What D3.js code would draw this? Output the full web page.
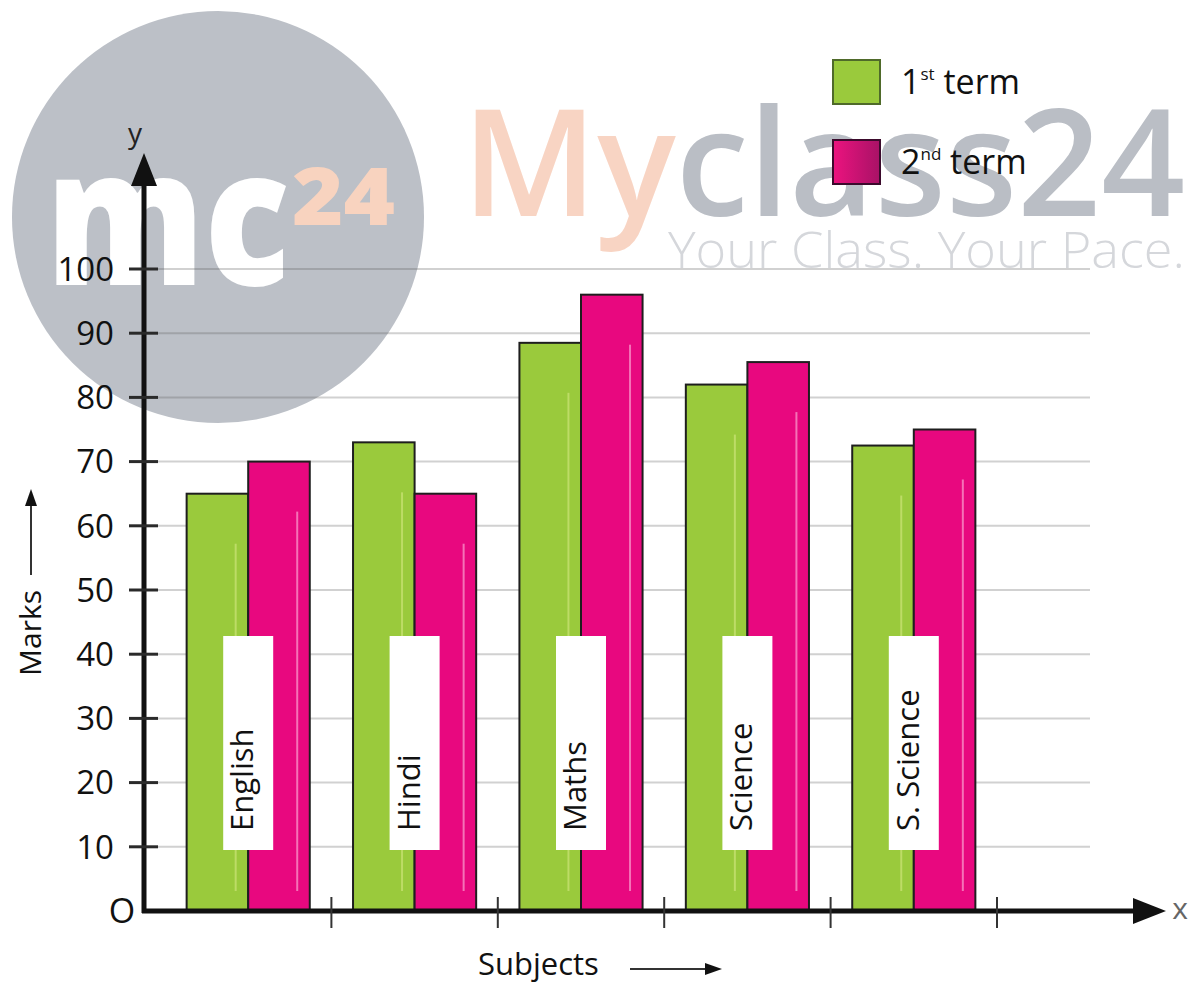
<!DOCTYPE html>
<html>
<head>
<meta charset="utf-8">
<script src="https://cdn.jsdelivr.net/npm/d3@7"></script>
<style>
  html, body { margin: 0; padding: 0; background: #ffffff; }
  svg { display: block; }
  text { font-family: "Open Sans", "Noto Sans", sans-serif; }
</style>
</head>
<body>
<svg id="chart" width="1196" height="986"></svg>
<script>
// ---- data ----
const subjects = ["English", "Hindi", "Maths", "Science", "S. Science"];
const seriesNames = ["1st term", "2nd term"];
const term1 = [65, 73, 88.5, 82, 72.5];
const term2 = [70, 65, 96, 85.5, 75];
const yTickValues = [0, 10, 20, 30, 40, 50, 60, 70, 80, 90, 100];
const yTickLabels = ["O", "10", "20", "30", "40", "50", "60", "70", "80", "90", "100"];
const seriesColors = ["#9aca3c", "#e8087f"];

// ---- layout ----
const axisX = 144, axisY = 911;
const svg = d3.select("#chart");

const defs = svg.append("defs");
const grad = defs.append("linearGradient").attr("id", "pinkLegend").attr("x1", "0").attr("x2", "1").attr("y1", "0").attr("y2", "0");
grad.append("stop").attr("offset", "0").attr("stop-color", "#ec137f");
grad.append("stop").attr("offset", "1").attr("stop-color", "#a81266");

const y = d3.scaleLinear().domain([0, 100]).range([axisY, 269]);
const x0 = d3.scaleBand().domain(subjects).range([165, 997]).paddingInner(0.26).paddingOuter(0.13);
const x1 = d3.scaleBand().domain(seriesNames).range([0, x0.bandwidth()]);

// ---- watermark (background) ----
const wm = svg.append("g").attr("class", "watermark");
wm.append("circle").attr("cx", 218).attr("cy", 217).attr("r", 206).attr("fill", "#bcc0c7");
wm.append("text").attr("x", 46).attr("y", 285).attr("font-family", "Inter, sans-serif")
  .attr("font-weight", 800).attr("font-size", 190).attr("fill", "#ffffff")
  .attr("textLength", 244).attr("lengthAdjust", "spacingAndGlyphs").text("mc");
wm.append("text").attr("x", 292).attr("y", 225).attr("font-family", "Inter, sans-serif")
  .attr("font-weight", 800).attr("font-size", 79).attr("fill", "#f8d3bf")
  .attr("textLength", 103).attr("lengthAdjust", "spacingAndGlyphs").text("24");
const big = wm.append("text").attr("x", 462).attr("y", 216).attr("font-family", "Inter, sans-serif")
  .attr("font-weight", 600).attr("font-size", 148)
  .attr("textLength", 723).attr("lengthAdjust", "spacingAndGlyphs");
big.append("tspan").attr("fill", "#f8d4c3").text("My");
big.append("tspan").attr("fill", "#babec5").text("class24");
wm.append("text").attr("x", 668).attr("y", 268).attr("font-family", "Inter, sans-serif")
  .attr("font-weight", 300).attr("font-size", 50).attr("fill", "#d5d7db")
  .attr("textLength", 517).attr("lengthAdjust", "spacingAndGlyphs").text("Your Class. Your Pace.");

// ---- grid lines ----
svg.append("g").selectAll("line").data(yTickValues.filter(d => d > 0)).join("line")
  .attr("x1", 157).attr("x2", 1090)
  .attr("y1", d => y(d)).attr("y2", d => y(d))
  .attr("stroke", "rgba(90,90,90,0.28)").attr("stroke-width", 2);

// ---- bars ----
const rows = subjects.map((s, i) => ({ subject: s, values: [term1[i], term2[i]] }));
const groups = svg.append("g").selectAll("g").data(rows).join("g")
  .attr("transform", d => `translate(${x0(d.subject)},0)`);
groups.selectAll("rect.bar").data(d => d.values.map((v, k) => ({ key: seriesNames[k], k, v })))
  .join("rect").attr("class", "bar")
  .attr("x", d => x1(d.key)).attr("width", x1.bandwidth())
  .attr("y", d => y(d.v)).attr("height", d => y(0) - y(d.v))
  .attr("fill", d => seriesColors[d.k])
  .attr("stroke", "#1e1e1e").attr("stroke-width", 2);
// subtle highlight stripe in each bar
groups.selectAll("rect.hl").data(d => d.values.map((v, k) => ({ key: seriesNames[k], k, v })))
  .join("rect").attr("class", "hl")
  .attr("x", d => x1(d.key) + x1.bandwidth() * 0.78).attr("width", 2)
  .attr("y", d => y(d.v) + 50).attr("height", d => Math.max(0, y(0) - y(d.v) - 70))
  .attr("fill", d => d.k === 0 ? "rgba(255,255,180,0.35)" : "rgba(255,200,230,0.55)");

// ---- subject label boxes ----
const lab = svg.append("g").selectAll("g").data(subjects).join("g")
  .attr("transform", d => `translate(${x0(d) + x0.bandwidth() / 2},0)`);
lab.append("rect").attr("x", -25).attr("width", 50).attr("y", 636).attr("height", 214).attr("fill", "#ffffff");
lab.append("text")
  .attr("transform", "translate(5,831) rotate(-90)")
  .attr("font-size", 31).attr("fill", "#111").attr("text-anchor", "start")
  .text(d => d);

// ---- y axis ----
const yAxisG = svg.append("g");
yAxisG.append("line").attr("x1", axisX).attr("x2", axisX).attr("y1", axisY + 2).attr("y2", 180)
  .attr("stroke", "#111").attr("stroke-width", 5);
yAxisG.append("path").attr("d", `M${axisX},153 L${axisX - 13},186 L${axisX + 13},186 Z`).attr("fill", "#111");
yAxisG.selectAll("line.tick").data(yTickValues.filter(d => d > 0)).join("line").attr("class", "tick")
  .attr("x1", 129).attr("x2", 158).attr("y1", d => y(d)).attr("y2", d => y(d))
  .attr("stroke", "#2a2a2a").attr("stroke-width", 3);
yAxisG.selectAll("text.tl").data(yTickValues).join("text").attr("class", "tl")
  .attr("x", (d, i) => i === 0 ? 122 : 114)
  .attr("y", d => y(d)).attr("dy", "0.36em")
  .attr("text-anchor", (d, i) => i === 0 ? "middle" : "end")
  .attr("font-size", (d, i) => i === 0 ? 34 : 33).attr("fill", "#111")
  .text((d, i) => yTickLabels[i]);
svg.append("text").attr("x", 135).attr("y", 143).attr("text-anchor", "middle")
  .attr("font-size", 28).attr("fill", "#222").text("y");

// ---- x axis ----
const xAxisG = svg.append("g");
xAxisG.append("line").attr("x1", axisX - 2).attr("x2", 1140).attr("y1", axisY).attr("y2", axisY)
  .attr("stroke", "#111").attr("stroke-width", 5);
xAxisG.append("path").attr("d", `M1166,${axisY} L1133,${axisY - 13} L1133,${axisY + 13} Z`).attr("fill", "#111");
xAxisG.selectAll("line.tick").data(subjects).join("line").attr("class", "tick")
  .attr("x1", d => x0(d) + x0.bandwidth() + x0.step() * x0.paddingInner() / 2)
  .attr("x2", d => x0(d) + x0.bandwidth() + x0.step() * x0.paddingInner() / 2)
  .attr("y1", 897).attr("y2", 928).attr("stroke", "#333").attr("stroke-width", 2);
svg.append("text").attr("x", 1180).attr("y", 919).attr("text-anchor", "middle")
  .attr("font-size", 30).attr("fill", "#666").text("x");

// ---- axis titles ----
svg.append("text").attr("transform", "translate(41,676) rotate(-90)")
  .attr("font-size", 30).attr("fill", "#111").text("Marks");
svg.append("line").attr("x1", 31).attr("x2", 31).attr("y1", 575).attr("y2", 502)
  .attr("stroke", "#333").attr("stroke-width", 2);
svg.append("path").attr("d", "M31,489 L25,506 L37,506 Z").attr("fill", "#111");

svg.append("text").attr("x", 478).attr("y", 975)
  .attr("font-size", 31).attr("fill", "#111").text("Subjects");
svg.append("line").attr("x1", 630).attr("x2", 708).attr("y1", 969).attr("y2", 969)
  .attr("stroke", "#333").attr("stroke-width", 2);
svg.append("path").attr("d", "M722,969 L705,963 L705,975 Z").attr("fill", "#111");

// ---- legend ----
const lg = svg.append("g").selectAll("g").data(seriesNames).join("g")
  .attr("transform", (d, i) => `translate(833,${60 + i * 80})`);
lg.append("rect").attr("width", 47).attr("height", 44)
  .attr("fill", (d, i) => i === 0 ? "#9aca3c" : "url(#pinkLegend)")
  .attr("stroke", (d, i) => i === 0 ? "#4f6a2a" : "#3b0a2c").attr("stroke-width", 2);
const lt = lg.append("text").attr("x", 68).attr("y", 34).attr("font-size", 34).attr("fill", "#111");
const sups = ["st", "nd"];
lt.each(function (d, i) {
  const t = d3.select(this);
  t.append("tspan").text(d.split(/[a-z]/)[0]);
  t.append("tspan").attr("font-size", 17).attr("dy", -14).text(sups[i]);
  t.append("tspan").attr("dy", 14).text(" " + d.split(" ")[1]);
});
</script>
</body>
</html>
